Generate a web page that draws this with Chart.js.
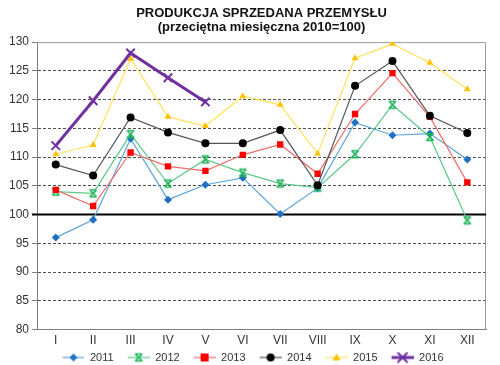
<!DOCTYPE html>
<html>
<head>
<meta charset="utf-8">
<script src="https://cdn.jsdelivr.net/npm/chart.js@4/dist/chart.umd.min.js"></script>
<style>
html,body{margin:0;padding:0;background:#fff;}
#wrap{width:500px;height:365px;}
</style>
</head>
<body>
<div id="wrap"><canvas id="c" width="500" height="365"></canvas></div>
<script>
const months = ['I','II','III','IV','V','VI','VII','VIII','IX','X','XI','XII'];
const seriesNames = ['2011','2012','2013','2014','2015','2016'];
const v2011 = [96.0, 99.1, 113.2, 102.6, 105.2, 106.4, 100.1, 104.6, 116.0, 113.8, 114.1, 109.6];
const v2012 = [104.0, 103.7, 114.0, 105.4, 109.6, 107.3, 105.4, 104.7, 110.5, 119.1, 113.5, 99.0];
const v2013 = [104.3, 101.5, 110.8, 108.4, 107.6, 110.4, 112.2, 107.1, 117.5, 124.6, 117.0, 105.6];
const v2014 = [108.7, 106.8, 116.9, 114.3, 112.4, 112.4, 114.7, 105.1, 122.4, 126.7, 117.2, 114.2];
const v2015 = [110.5, 112.1, 127.1, 117.0, 115.4, 120.6, 119.1, 110.6, 127.2, 129.7, 126.4, 121.8];
const v2016 = [112.0, 119.8, 128.1, 123.8, 119.6];
const yTicksMin = 80, yTicksMax = 130, yStep = 5;

const lineColors = ['#5DA5DA', '#5CC98A', '#F26B6B', '#555555', '#FFE35A', '#7030A0'];
const markColors = ['#1F6FC5', '#1FB35A', '#FF0000', '#000000', '#FFC000', '#7030A0'];
const markStyles = ['diamond', 'hourglass', 'square', 'circle', 'triangle', 'cross'];

function drawMarker(ctx, style, cx, cy, color) {
  ctx.save();
  ctx.fillStyle = color; ctx.strokeStyle = color;
  if (style === 'diamond') {
    const r = 4;
    ctx.beginPath(); ctx.moveTo(cx, cy - r); ctx.lineTo(cx + r, cy); ctx.lineTo(cx, cy + r); ctx.lineTo(cx - r, cy); ctx.closePath(); ctx.fill();
  } else if (style === 'hourglass') {
    const r = 3.5; ctx.lineWidth = 1.6;
    ctx.beginPath();
    ctx.moveTo(cx - r, cy - r); ctx.lineTo(cx + r, cy + r);
    ctx.moveTo(cx + r, cy - r); ctx.lineTo(cx - r, cy + r);
    ctx.moveTo(cx - r, cy - r); ctx.lineTo(cx + r, cy - r);
    ctx.moveTo(cx - r, cy + r); ctx.lineTo(cx + r, cy + r);
    ctx.stroke();
  } else if (style === 'square') {
    ctx.fillRect(cx - 4, cy - 4, 8, 8);
  } else if (style === 'circle') {
    ctx.beginPath(); ctx.arc(cx, cy, 4, 0, Math.PI * 2); ctx.fill();
  } else if (style === 'triangle') {
    ctx.beginPath(); ctx.moveTo(cx, cy - 4); ctx.lineTo(cx + 4, cy + 3); ctx.lineTo(cx - 4, cy + 3); ctx.closePath(); ctx.fill();
  } else if (style === 'cross') {
    const r = 5; ctx.lineWidth = 2;
    ctx.beginPath(); ctx.moveTo(cx - r, cy - r); ctx.lineTo(cx + r, cy + r); ctx.moveTo(cx + r, cy - r); ctx.lineTo(cx - r, cy + r); ctx.stroke();
  }
  ctx.restore();
}

function markerCanvas(i) {
  const c = document.createElement('canvas');
  c.width = 14; c.height = 14;
  drawMarker(c.getContext('2d'), markStyles[i], 7, 7, markColors[i]);
  return c;
}
const LEG_W = 36, LEG_LINE = 22;
function legendCanvas(i) {
  const c = document.createElement('canvas');
  c.width = LEG_W; c.height = 12;
  const ctx = c.getContext('2d');
  const x0 = LEG_W - LEG_LINE;
  ctx.strokeStyle = lineColors[i]; ctx.lineWidth = i === 5 ? 3 : 1.2;
  ctx.beginPath(); ctx.moveTo(x0, 6); ctx.lineTo(LEG_W, 6); ctx.stroke();
  drawMarker(ctx, markStyles[i], x0 + LEG_LINE / 2, 6, markColors[i]);
  return c;
}

const allValues = [v2011, v2012, v2013, v2014, v2015, v2016];
const builtin = {
  diamond: 'rectRot', square: 'rect', circle: 'circle', triangle: 'triangle', cross: 'crossRot'
};
const datasets = allValues.map((vals, i) => {
  const st = markStyles[i];
  const ds = {
    label: seriesNames[i],
    data: vals,
    borderColor: lineColors[i],
    backgroundColor: markColors[i],
    borderWidth: i === 5 ? 3 : 1.2,
    pointBackgroundColor: markColors[i],
    pointBorderColor: markColors[i],
    pointBorderWidth: i === 5 ? 2 : 0,
    tension: 0,
    fill: false,
    order: 6 - i
  };
  if (st === 'hourglass') {
    ds.pointStyle = markerCanvas(i);
  } else {
    ds.pointStyle = builtin[st];
    ds.pointRadius = st === 'square' ? 4.5 : (st === 'cross' ? 6 : 4);
  }
  return ds;
});

const frame = {
  id: 'frame',
  beforeDatasetsDraw(chart) {
    const { ctx, chartArea: a, scales } = chart;
    ctx.save();
    ctx.strokeStyle = '#9a9a9a'; ctx.lineWidth = 1;
    ctx.beginPath();
    ctx.moveTo(a.left, a.top + 0.5); ctx.lineTo(a.right - 0.5, a.top + 0.5); ctx.lineTo(a.right - 0.5, a.bottom);
    ctx.stroke();
    const y = scales.y.getPixelForValue(100);
    ctx.strokeStyle = '#000'; ctx.lineWidth = 2;
    ctx.beginPath(); ctx.moveTo(a.left - 5, y); ctx.lineTo(a.right, y); ctx.stroke();
    ctx.restore();
  }
};

new Chart(document.getElementById('c'), {
  type: 'line',
  data: { labels: months, datasets },
  plugins: [frame],
  options: {
    responsive: false,
    animation: false,
    layout: { padding: { left: 6, right: 14, top: 0, bottom: -8 } },
    plugins: {
      title: {
        display: true,
        fullSize: false,
        text: ['PRODUKCJA SPRZEDANA PRZEMYSŁU', '(przeciętna miesięczna 2010=100)'],
        color: '#111',
        font: { family: 'Liberation Sans, Arial, sans-serif', size: 13, weight: 'bold', lineHeight: 1.12 },
        padding: { top: 6, bottom: 7 }
      },
      legend: {
        position: 'bottom',
        fullSize: true,
        labels: {
          usePointStyle: true,
          pointStyleWidth: LEG_W,
          boxHeight: 11,
          padding: 0,
          color: '#333',
          font: { family: 'Liberation Sans, Arial, sans-serif', size: 11, lineHeight: 1 },
          generateLabels(chart) {
            return Chart.defaults.plugins.legend.labels.generateLabels(chart)
              .sort((a, b) => a.datasetIndex - b.datasetIndex)
              .map((l) => ({ ...l, pointStyle: legendCanvas(l.datasetIndex) }));
          }
        }
      },
      tooltip: { enabled: false }
    },
    scales: {
      x: {
        offset: true,
        grid: { display: false, drawTicks: false },
        border: { display: true, color: '#808080', width: 1 },
        ticks: { color: '#333', padding: 4, font: { family: 'Liberation Sans, Arial, sans-serif', size: 12 } }
      },
      y: {
        min: yTicksMin, max: yTicksMax,
        ticks: { stepSize: yStep, color: '#333', padding: 3, font: { family: 'Liberation Sans, Arial, sans-serif', size: 12 } },
        grid: {
          color: (c) => (c.tick && (c.tick.value === 130 || c.tick.value === 80 || c.tick.value === 100)) ? 'rgba(0,0,0,0)' : '#505050',
          tickColor: '#808080',
          tickLength: 5,
          lineWidth: 1
        },
        border: { display: true, color: '#808080', width: 1, dash: [3, 2] }
      }
    }
  }
});
</script>
</body>
</html>
